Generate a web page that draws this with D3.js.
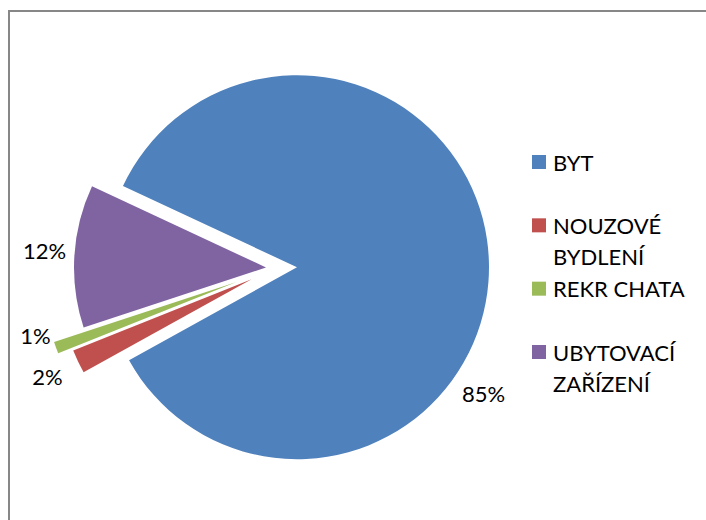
<!DOCTYPE html>
<html>
<head>
<meta charset="utf-8">
<script src="https://cdn.jsdelivr.net/npm/d3@7"></script>
<style>
  html, body { margin: 0; padding: 0; background: #fff; }
  text { font-family: Lato, "Open Sans", sans-serif; fill: #000; }
</style>
</head>
<body>
<div id="chart"></div>
<script>
// data
var categories = ['BYT', 'NOUZOVÉ BYDLENÍ', 'REKR CHATA', 'UBYTOVACÍ ZAŘÍZENÍ'];
var shares = [85, 2, 1, 12];
var colors = ['#4F81BD', '#C0504D', '#9BBB59', '#8064A2'];

var W = 706, H = 520;
var cx = 275, cy = 268, radius = 192;
var firstSliceDeg = -65;
var fontSize = '22px';
// how far each slice is pulled out of the pie (px)
var explode = [22, 26, 41, 9];
// label placement: angle shift (deg) from the slice middle, distance from slice centre
var labelShift = [36, 0, 5, 1];
var labelDist = [225, 226, 208, 222];

var svg = d3.select('#chart').append('svg')
    .attr('width', W)
    .attr('height', H);

// chart area border
svg.append('rect')
    .attr('x', 9).attr('y', 11)
    .attr('width', 900).attr('height', 700)
    .attr('fill', 'none')
    .attr('stroke', '#878787')
    .attr('stroke-width', 2);

var rad = Math.PI / 180;
var pie = d3.pie()
    .sort(null)
    .value(function(d){ return d; })
    .startAngle(firstSliceDeg * rad)
    .endAngle((firstSliceDeg + 360) * rad);

var arcs = pie(shares);
var arc = d3.arc().innerRadius(0).outerRadius(radius);

function dir(a){ return [Math.sin(a), -Math.cos(a)]; }

var plot = svg.append('g').attr('transform', 'translate(' + cx + ',' + cy + ')');

var slices = plot.selectAll('.slice')
    .data(arcs)
    .enter()
    .append('g')
    .attr('class', 'slice')
    .attr('transform', function(d, i){
      var m = dir((d.startAngle + d.endAngle) / 2);
      return 'translate(' + (m[0] * explode[i]) + ',' + (m[1] * explode[i]) + ')';
    });

slices.append('path')
    .attr('d', arc)
    .attr('fill', function(d, i){ return colors[i]; });

slices.append('text')
    .attr('x', function(d, i){
      var a = (d.startAngle + d.endAngle) / 2 + labelShift[i] * rad;
      return dir(a)[0] * labelDist[i];
    })
    .attr('y', function(d, i){
      var a = (d.startAngle + d.endAngle) / 2 + labelShift[i] * rad;
      return dir(a)[1] * labelDist[i];
    })
    .attr('text-anchor', 'middle')
    .attr('dominant-baseline', 'central')
    .attr('font-size', fontSize)
    .text(function(d){ return d3.format('.0f')(d.data) + '%'; });

// legend
var legendY = d3.scalePoint()
    .domain(categories)
    .range([162, 352]);

var legend = svg.selectAll('.legend-item')
    .data(categories)
    .enter()
    .append('g')
    .attr('class', 'legend-item')
    .attr('transform', function(d){ return 'translate(532,' + legendY(d) + ')'; });

legend.append('rect')
    .attr('x', 0).attr('y', -7)
    .attr('width', 14).attr('height', 14)
    .attr('fill', function(d, i){ return colors[i]; });

legend.each(function(d){
  var g = d3.select(this);
  var words = d.split(' ');
  var maxW = 150;
  var lines = [];
  var line = '';
  var probe = g.append('text').attr('font-size', fontSize);
  words.forEach(function(w){
    var test = line ? line + ' ' + w : w;
    probe.text(test);
    if (line && probe.node().getComputedTextLength() > maxW) {
      lines.push(line);
      line = w;
    } else {
      line = test;
    }
  });
  lines.push(line);
  probe.remove();
  g.selectAll('text.lbl')
    .data(lines)
    .enter()
    .append('text')
    .attr('class', 'lbl')
    .attr('x', 21)
    .attr('y', function(l, j){ return j * 31; })
    .attr('dominant-baseline', 'central')
    .attr('font-size', fontSize)
    .text(function(l){ return l; });
});
</script>
</body>
</html>
